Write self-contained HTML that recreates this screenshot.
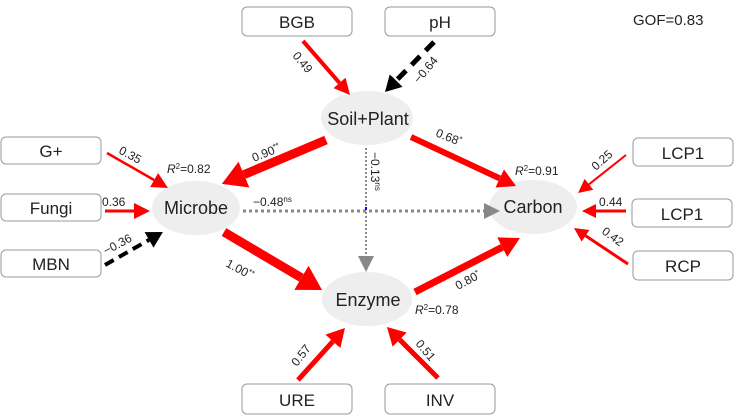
<!DOCTYPE html>
<html><head><meta charset="utf-8"><style>
html,body{margin:0;padding:0;background:#fff;}
svg{display:block;font-family:"Liberation Sans",sans-serif;}
</style></head><body>
<svg width="750" height="420" viewBox="0 0 750 420" xmlns="http://www.w3.org/2000/svg">
<defs>
<marker id="r14" markerUnits="userSpaceOnUse" markerWidth="14" markerHeight="14" refX="0" refY="7" orient="auto"><path d="M0,0 L14,7 L0,14z" fill="#f00"/></marker>
<marker id="r16" markerUnits="userSpaceOnUse" markerWidth="16" markerHeight="16" refX="0" refY="8" orient="auto"><path d="M0,0 L16,8 L0,16z" fill="#f00"/></marker>
<marker id="r18" markerUnits="userSpaceOnUse" markerWidth="18" markerHeight="20" refX="0" refY="10" orient="auto"><path d="M0,0 L18,10 L0,20z" fill="#f00"/></marker>
<marker id="r20" markerUnits="userSpaceOnUse" markerWidth="20" markerHeight="22" refX="0" refY="11" orient="auto"><path d="M0,0 L20,11 L0,22z" fill="#f00"/></marker>
<marker id="r24" markerUnits="userSpaceOnUse" markerWidth="24" markerHeight="28" refX="0" refY="14" orient="auto"><path d="M0,0 L24,14 L0,28z" fill="#f00"/></marker>
<marker id="k16" markerUnits="userSpaceOnUse" markerWidth="16" markerHeight="18" refX="0" refY="9" orient="auto"><path d="M0,0 L16,9 L0,18z" fill="#000"/></marker>
<marker id="g16" markerUnits="userSpaceOnUse" markerWidth="16" markerHeight="16" refX="0" refY="8" orient="auto"><path d="M0,0 L16,8 L0,16z" fill="#888"/></marker>
</defs>
<g fill="#fff" stroke="#999" stroke-width="1">
<rect x="242" y="7" width="110" height="29" rx="5"/>
<rect x="385" y="7" width="110" height="29" rx="5"/>
<rect x="1" y="137" width="100" height="27" rx="5"/>
<rect x="1" y="194" width="100" height="27" rx="5"/>
<rect x="1" y="250" width="100" height="27" rx="5"/>
<rect x="633" y="138" width="100" height="28" rx="5"/>
<rect x="632" y="199" width="100" height="28" rx="5"/>
<rect x="633" y="251" width="100" height="29" rx="5"/>
<rect x="242" y="384" width="110" height="30" rx="5"/>
<rect x="385" y="384" width="110" height="30" rx="5"/>
</g>
<g fill="#eee">
<ellipse cx="367" cy="118" rx="46" ry="27"/>
<ellipse cx="196" cy="208" rx="44" ry="27"/>
<ellipse cx="533" cy="207" rx="44" ry="27"/>
<ellipse cx="367" cy="299" rx="45" ry="27"/>
</g>
<g stroke-linecap="butt" fill="none">
<line x1="303" y1="41" x2="339.5" y2="82.9" stroke="#f00" stroke-width="4" marker-end="url(#r16)"/>
<line x1="434" y1="42" x2="396.2" y2="80.6" stroke="#000" stroke-width="5" stroke-dasharray="12 8" marker-end="url(#k16)"/>
<line x1="326" y1="140" x2="244" y2="174.6" stroke="#f00" stroke-width="9" marker-end="url(#r24)"/>
<line x1="411" y1="137" x2="499.7" y2="178.4" stroke="#f00" stroke-width="6" marker-end="url(#r18)"/>
<line x1="107" y1="153" x2="154.1" y2="180" stroke="#f00" stroke-width="2.5" marker-end="url(#r16)"/>
<line x1="105" y1="211" x2="134" y2="211" stroke="#f00" stroke-width="3" marker-end="url(#r16)"/>
<line x1="105" y1="265" x2="149" y2="239.9" stroke="#000" stroke-width="4" stroke-dasharray="10 6" marker-end="url(#k16)"/>
<line x1="224" y1="232" x2="301.4" y2="277.8" stroke="#f00" stroke-width="9" marker-end="url(#r24)"/>
<line x1="415" y1="292" x2="502.2" y2="247.2" stroke="#f00" stroke-width="7" marker-end="url(#r20)"/>
<line x1="626" y1="155" x2="589" y2="184.3" stroke="#f00" stroke-width="2" marker-end="url(#r14)"/>
<line x1="626" y1="211" x2="596" y2="211" stroke="#f00" stroke-width="3" marker-end="url(#r14)"/>
<line x1="628" y1="264" x2="585.6" y2="235.8" stroke="#f00" stroke-width="3" marker-end="url(#r14)"/>
<line x1="298" y1="380" x2="332.9" y2="341.4" stroke="#f00" stroke-width="5" marker-end="url(#r18)"/>
<line x1="438" y1="378" x2="399.7" y2="339.7" stroke="#f00" stroke-width="5" marker-end="url(#r18)"/>
<line x1="243" y1="211" x2="484" y2="211" stroke="#888" stroke-width="3" stroke-dasharray="3 3" marker-end="url(#g16)"/>
<line x1="366" y1="148" x2="366" y2="256" stroke="#888" stroke-width="2" stroke-dasharray="2 2" marker-end="url(#g16)"/>
</g>
<rect x="365" y="207" width="2" height="3" fill="#00f"/>
<g font-size="17" fill="#222" text-anchor="middle">
<text x="297" y="28">BGB</text>
<text x="440" y="28">pH</text>
<text x="51" y="157">G+</text>
<text x="51" y="214">Fungi</text>
<text x="51" y="270">MBN</text>
<text x="683" y="159">LCP1</text>
<text x="682" y="220">LCP1</text>
<text x="683" y="272">RCP</text>
<text x="297" y="406">URE</text>
<text x="440" y="406">INV</text>
</g>
<g font-size="18" fill="#222" text-anchor="middle">
<text x="368" y="125">Soil+Plant</text>
<text x="196" y="214">Microbe</text>
<text x="533" y="213">Carbon</text>
<text x="368" y="306">Enzyme</text>
</g>
<text x="633" y="25" font-size="15" fill="#222">GOF=0.83</text>
<g font-size="12" fill="#222">
<text transform="translate(292,56) rotate(50)">0.49</text>
<text transform="translate(419,84) rotate(-50)">−0.64</text>
<text transform="translate(254,162) rotate(-22)">0.90<tspan font-size="8" dy="-4">**</tspan></text>
<text transform="translate(435,136) rotate(22)">0.68<tspan font-size="8" dy="-4">*</tspan></text>
<text transform="translate(118,153) rotate(28)">0.35</text>
<text x="102" y="206">0.36</text>
<text transform="translate(106,255) rotate(-28)">−0.36</text>
<text transform="translate(225,266) rotate(28)">1.00<tspan font-size="8" dy="-4">**</tspan></text>
<text transform="translate(458,290) rotate(-28)">0.80<tspan font-size="8" dy="-4">*</tspan></text>
<text transform="translate(596,171) rotate(-42)">0.25</text>
<text x="599" y="206">0.44</text>
<text transform="translate(601,233) rotate(36)">0.42</text>
<text transform="translate(297,367) rotate(-52)">0.57</text>
<text transform="translate(415,344) rotate(50)">0.51</text>
<text x="253" y="206">−0.48<tspan font-size="8" dy="-4">ns</tspan></text>
<text transform="translate(371,152) rotate(90)">−0.13<tspan font-size="8" dy="-4">ns</tspan></text>
<text x="167" y="173"><tspan font-style="italic">R</tspan><tspan font-size="8" dy="-4">2</tspan><tspan dy="4">=0.82</tspan></text>
<text x="515" y="175"><tspan font-style="italic">R</tspan><tspan font-size="8" dy="-4">2</tspan><tspan dy="4">=0.91</tspan></text>
<text x="415" y="314"><tspan font-style="italic">R</tspan><tspan font-size="8" dy="-4">2</tspan><tspan dy="4">=0.78</tspan></text>
</g>
</svg>
</body></html>
